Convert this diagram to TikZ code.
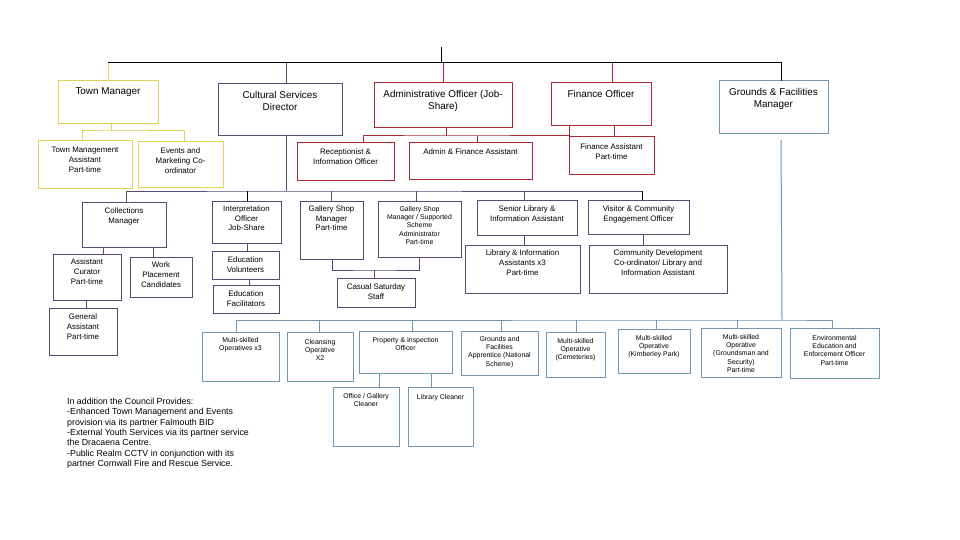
\documentclass[tikz,border=0pt]{standalone}
\usepackage{fontspec}
\setmainfont{Liberation Sans}
\definecolor{yel}{RGB}{228,208,90}
\definecolor{pur}{RGB}{92,72,112}
\definecolor{rd}{RGB}{168,40,52}
\definecolor{blu}{RGB}{112,150,176}
\newcommand\ob[8]{\node[#1,anchor=north west,inner sep=0pt,outer sep=0pt] (#2) at (#3,#4) {\parbox[c][\dimexpr #6pt-#4pt\relax][t]{\dimexpr #5pt-#3pt\relax}{\centering\vspace*{#7pt}#8\par}};}
\tikzset{
  yb/.style={draw=yel,line width=1pt},
  pb/.style={draw=pur,line width=1pt},
  rb/.style={draw=rd,line width=1pt},
  bb/.style={draw=blu,line width=1pt},
  fL/.style={font=\fontsize{9.9}{12}\selectfont},
  fM/.style={font=\fontsize{7.9}{9.8}\selectfont},
  fS/.style={font=\fontsize{6.9}{8.4}\selectfont},
  blk/.style={draw=black,line width=1pt},
  ycon/.style={draw=yel,line width=1pt},
  pcon/.style={draw=pur,line width=1pt},
  rcon/.style={draw=rd,line width=1pt},
  bcon/.style={draw=blu,line width=1pt},
}
\begin{document}
\begin{tikzpicture}[x=1pt,y=-1pt]
\useasboundingbox[fill=white] (0,0) rectangle (960,540);

% top level
\ob{yb,fL}{tm}{58}{81}{158}{124}{7}{Town Manager}
\ob{pb,fL}{csd}{218}{84}{342}{136}{7}{Cultural Services\\Director}
\ob{rb,fL}{ao}{374}{83}{512}{128}{7}{Administrative Officer (Job-\\Share)}
\ob{rb,fL}{fo}{551}{83}{651}{126}{7}{Finance Officer}
\ob{bb,fL}{gfm}{719}{81}{828}{134}{7}{Grounds \& Facilities\\Manager}

% second level
\ob{yb,fM}{tma}{38}{141}{132}{188}{6}{Town Management\\Assistant\\Part-time}
\ob{yb,fM}{emc}{138}{142}{223}{187}{6}{Events and\\Marketing Co-\\ordinator}
\ob{rb,fM}{rio}{297}{143}{394}{181}{6}{Receptionist \&\\Information Officer}
\ob{rb,fM}{afa}{409}{143}{532}{180}{6}{Admin \& Finance Assistant}
\ob{rb,fM}{fa}{569}{137}{654}{175}{7}{Finance Assistant\\Part-time}

% cultural services
\ob{pb,fM}{cm}{82}{202}{166}{247}{6}{Collections\\Manager}
\ob{pb,fM}{io}{212}{201}{281}{243}{4.5}{Interpretation\\Officer\\Job-Share}
\ob{pb,fM}{gsm}{300}{201}{363}{259}{4.5}{Gallery Shop\\Manager\\Part-time}
\ob{pb,fS}{gss}{378}{201}{461}{257}{5}{Gallery Shop\\Manager / Supported\\Scheme\\Administrator\\Part-time}
\ob{pb,fM}{sla}{477}{200}{577}{235}{6}{Senior Library \&\\Information Assistant}
\ob{pb,fM}{vce}{588}{200}{689}{234}{6}{Visitor \& Community\\Engagement Officer}
\ob{pb,fM}{lia}{465}{245}{580}{293}{5}{Library \& Information\\Assistants x3\\Part-time}
\ob{pb,fM}{cdc}{589}{245}{727}{293}{5}{Community Development\\Co-ordinator/ Library and\\Information Assistant}
\ob{pb,fM}{ac}{53}{254}{121}{300}{5}{Assistant\\Curator\\Part-time}
\ob{pb,fM}{wp}{130}{257}{192}{297}{5}{Work\\Placement\\Candidates}
\ob{pb,fM}{ga}{49}{308}{117}{355}{6}{General\\Assistant\\Part-time}
\ob{pb,fM}{ev}{212}{251}{279}{279}{6}{Education\\Volunteers}
\ob{pb,fM}{ef}{213}{285}{279}{313}{6}{Education\\Facilitators}
\ob{pb,fM}{css}{337}{278}{415}{307}{6}{Casual Saturday\\Staff}

% grounds
\ob{bb,fS}{mo3}{202}{332}{279}{381}{5}{Multi-skilled\\Operatives x3}
\ob{bb,fS}{cop}{287}{332}{353}{381}{7}{Cleansing\\Operative\\X2}
\ob{bb,fS}{pio}{359}{331}{452}{373}{6}{Property \& Inspection\\Officer}
\ob{bb,fS}{ogc}{333}{387}{399}{446}{6}{Office / Gallery\\Cleaner}
\ob{bb,fS}{lc}{408}{387}{473}{446}{7}{Library Cleaner}
\ob{bb,fS}{gfa}{461}{331}{538}{375}{5}{Grounds and\\Facilities\\Apprentice (National\\Scheme)}
\ob{bb,fS}{moc}{546}{332}{605}{377}{6}{Multi-skilled\\Operative\\(Cemeteries)}
\ob{bb,fS}{mok}{618}{329}{690}{373}{6}{Multi-skilled\\Operative\\(Kimberley Park)}
\ob{bb,fS}{mog}{701}{328}{781}{377}{6}{Multi-skilled\\Operative\\(Groundsman and\\Security)\\Part-time}
\ob{bb,fS}{eeo}{790}{328}{879}{378}{7}{Environmental\\Education and\\Enforcement Officer\\Part-time}

% note
\node[anchor=north west,inner sep=0pt,align=left,font=\fontsize{8.8}{10.35}\selectfont] (note) at (67,398) {In addition the Council Provides:\\-Enhanced Town Management and Events\\provision via its partner Falmouth BID\\-External Youth Services via its partner service\\the Dracaena Centre.\\-Public Realm CCTV in conjunction with its\\partner Cornwall Fire and Rescue Service.};

% connectors: top
\coordinate (topend) at (441,47);
\coordinate (bus) at (441,63);
\draw[ycon] (tm.north |- bus) -- (tm.north);
\draw[pcon] (286,0 |- bus) -- (286,0 |- csd.north);
\draw[rcon] (443,0 |- bus) -- (443,0 |- ao.north);
\draw[rcon] (612,0 |- bus) -- (612,0 |- fo.north);
\draw[blk] (topend) -- (bus);
\draw[blk] (tm.north |- bus) -- (781,0 |- bus) -- (781,0 |- gfm.north);

% town manager
\coordinate (tmj) at (111,131);
\draw[ycon] (111,0 |- tm.south) -- (tmj);
\draw[ycon] (82,0 |- tma.north) |- (tmj) -| (184,0 |- emc.north);

% admin
\coordinate (aoj) at (446,136);
\draw[rcon] (446,0 |- ao.south) -- (aoj);
\draw[rcon] (363,0 |- rio.north) |- (aoj) -| (569,0 |- fo.south);
\draw[rcon] (477,0 |- aoj) -- (477,0 |- afa.north);
\draw[rcon] (614,0 |- fo.south) -- (614,0 |- fa.north);

% cultural services
\coordinate (csj) at (286,191);
\draw[pcon] (286,0 |- csd.south) -- (csj);
\draw[pcon] (126,0 |- cm.north) |- (csj) -- (642,0 |- csj);
\draw[blk] (247,0 |- csj) -- (247,0 |- io.north);
\draw[pcon] (331,0 |- csj) -- (331,0 |- gsm.north);
\draw[pcon] (416,0 |- csj) -- (416,0 |- gss.north);
\draw[pcon] (524,0 |- csj) -- (524,0 |- sla.north);
\draw[blk] (642,0 |- csj) -- (642,0 |- vce.north);
\draw[pcon] (103,0 |- cm.south) -- (103,0 |- ac.north);
\draw[pcon] (153,0 |- cm.south) -- (153,0 |- wp.north);
\draw[pcon] (86,0 |- ac.south) -- (86,0 |- ga.north);
\draw[pcon] (247,0 |- io.south) -- (247,0 |- ev.north);
\draw[pcon] (249,0 |- ev.south) -- (249,0 |- ef.north);
\coordinate (gj) at (374,270);
\draw[pcon] (332,0 |- gsm.south) |- (gj) -| (419,0 |- gss.south);
\draw[pcon] (gj) -- (gj |- css.north);
\draw[pcon] (524,0 |- sla.south) -- (524,0 |- lia.north);
\draw[pcon] (643,0 |- vce.south) -- (643,0 |- cdc.north);

% grounds
\coordinate (gfj) at (782,320);
\draw[bcon] (781,140) -- (gfj);
\draw[bcon] (236,0 |- mo3.north) |- (gfj) -| (832,0 |- eeo.north);
\draw[bcon] (319,0 |- gfj) -- (319,0 |- cop.north);
\draw[bcon] (412,0 |- gfj) -- (412,0 |- pio.north);
\draw[bcon] (501,0 |- gfj) -- (501,0 |- gfa.north);
\draw[bcon] (576,0 |- gfj) -- (576,0 |- moc.north);
\draw[bcon] (656,0 |- gfj) -- (656,0 |- mok.north);
\draw[bcon] (737,0 |- gfj) -- (737,0 |- mog.north);
\draw[bcon] (379,0 |- pio.south) -- (379,0 |- ogc.north);
\draw[bcon] (431,0 |- pio.south) -- (431,0 |- lc.north);
\end{tikzpicture}
\end{document}
